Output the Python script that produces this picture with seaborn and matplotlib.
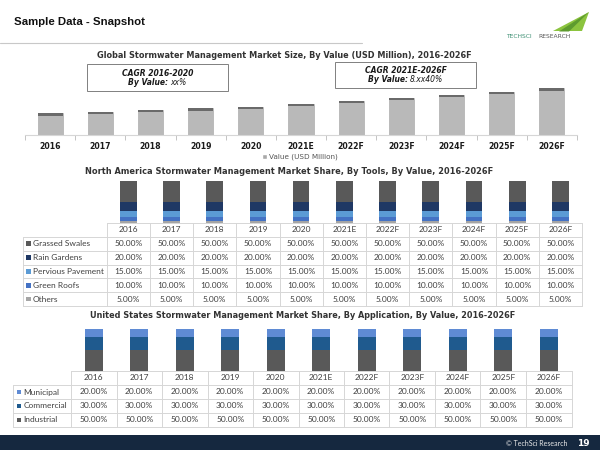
import matplotlib
matplotlib.use("Agg")
import matplotlib.pyplot as plt
import matplotlib.transforms as mtrans
from matplotlib.patches import Rectangle, Polygon, Patch
from matplotlib.lines import Line2D
import seaborn as sns
import numpy as np
import pandas as pd

# ---------------- data ----------------
years = ["2016", "2017", "2018", "2019", "2020", "2021E", "2022F", "2023F", "2024F", "2025F", "2026F"]
market_value = [21.7, 23.3, 25.0, 26.7, 28.3, 30.9, 34.0, 37.0, 40.0, 43.3, 46.7]

na_labels = ["Grassed Swales", "Rain Gardens", "Pervious Pavement", "Green Roofs", "Others"]
na_grassed_swales = [50, 50, 50, 50, 50, 50, 50, 50, 50, 50, 50]
na_rain_gardens = [20, 20, 20, 20, 20, 20, 20, 20, 20, 20, 20]
na_pervious_pavement = [15, 15, 15, 15, 15, 15, 15, 15, 15, 15, 15]
na_green_roofs = [10, 10, 10, 10, 10, 10, 10, 10, 10, 10, 10]
na_others = [5, 5, 5, 5, 5, 5, 5, 5, 5, 5, 5]

us_labels = ["Municipal", "Commercial", "Industrial"]
us_municipal = [20, 20, 20, 20, 20, 20, 20, 20, 20, 20, 20]
us_commercial = [30, 30, 30, 30, 30, 30, 30, 30, 30, 30, 30]
us_industrial = [50, 50, 50, 50, 50, 50, 50, 50, 50, 50, 50]

# ---------------- style ----------------
sns.set_theme(style="white")
plt.rcParams["font.family"] = ["DejaVu Sans"]

W, H = 600, 450
def fx(px):
    return px / W
def fy(py):
    return 1 - py / H

fig = plt.figure(figsize=(6, 4.5), dpi=100, facecolor="white")
renderer = fig.canvas.get_renderer()

def fit(t, target_w):
    w = t.get_window_extent(renderer).width
    t.set_fontsize(t.get_fontsize() * target_w / w)

TXT = "#404040"
GRID = "#d6d6d6"
TABLE_FONT = "Lato"

# ---------------- header ----------------
t = fig.text(fx(14), fy(22), "Sample Data - Snapshot", family="Liberation Sans",
             fontweight="bold", fontsize=9, ha="left", va="center", color="#111111")
fit(t, 130)
fig.add_artist(Line2D([0, fx(362)], [fy(42.5), fy(42.5)], color="#c8c8c8", lw=0.8))

# logo
fig.add_artist(Polygon([(fx(553), fy(31)), (fx(589), fy(12)), (fx(582), fy(31))],
                       closed=True, facecolor="#8cc43f", edgecolor="none"))
fig.add_artist(Polygon([(fx(559), fy(31.5)), (fx(589), fy(12)), (fx(569), fy(31.5))],
                       closed=True, facecolor="#5e9b2f", edgecolor="none"))
fig.text(fx(506), fy(36), "TECHSCI", fontsize=4.3, color="#3c8f72", ha="left", va="center")
fig.text(fx(538), fy(36), "RESEARCH", fontsize=4.3, color="#555555", ha="left", va="center")

# ---------------- chart 1: market size ----------------
t = fig.text(fx(284), fy(55), "Global Stormwater Management Market Size, By Value (USD Million), 2016-2026F",
             fontweight="bold", fontsize=6, ha="center", va="center", color="#333333")
fit(t, 381)

ax1 = fig.add_axes([fx(25), fy(135), 552 / W, 62 / H])
sns.barplot(x=years, y=market_value, color="#b9b9b9", width=0.5, saturation=1,
            edgecolor="#a3a3a3", linewidth=0.4, ax=ax1)
ax1.set_ylim(0, 62)
ax1.set_xlim(-0.5, len(years) - 0.5)
for p in list(ax1.patches):
    ax1.add_patch(Rectangle((p.get_x(), p.get_height() - 2.2), p.get_width(), 2.2,
                            facecolor="#6a6a6a", edgecolor="none"))
for s in ["left", "top", "right"]:
    ax1.spines[s].set_visible(False)
ax1.spines["bottom"].set_color(GRID)
ax1.spines["bottom"].set_linewidth(0.8)
ax1.set_yticks([])
ax1.set_xlabel("")
ax1.set_ylabel("")
ax1.set_xticks(np.arange(-0.5, len(years), 1), minor=True)
ax1.tick_params(axis="x", which="major", length=0, pad=5, labelsize=5.6, labelcolor="#1a1a1a")
ax1.tick_params(axis="x", which="minor", length=3.5, width=0.7, color="#c4c4c4",
                bottom=True, direction="out")
for lab in ax1.get_xticklabels():
    lab.set_fontweight("bold")
ax1.set_facecolor("none")

fig.legend(handles=[Patch(facecolor="#a9a9a9", label="Value (USD Million)")],
           loc="center", bbox_to_anchor=(fx(300), fy(157)), frameon=False,
           fontsize=5.2, handlelength=0.75, handleheight=0.75, handletextpad=0.3,
           labelcolor="#555555")

# CAGR boxes
def cagr_box(x0, y0, x1, y1, line1, bold2, norm2):
    fig.add_artist(Rectangle((fx(x0), fy(y1)), (x1 - x0) / W, (y1 - y0) / H,
                             transform=fig.transFigure, fill=False, edgecolor="#808080", lw=0.7))
    cx = (x0 + x1) / 2
    fig.text(fx(cx), fy(y0 + (y1 - y0) * 0.33), line1, fontweight="bold", style="italic",
             fontsize=5.5, ha="center", va="center", color="#1a1a1a")
    ta = fig.text(0, fy(y0 + (y1 - y0) * 0.68), bold2, fontweight="bold", style="italic",
                  fontsize=5.5, ha="left", va="center", color="#1a1a1a")
    tb = fig.text(0, fy(y0 + (y1 - y0) * 0.68), norm2, style="italic",
                  fontsize=5.5, ha="left", va="center", color="#1a1a1a")
    wa = ta.get_window_extent(renderer).width
    wb = tb.get_window_extent(renderer).width
    gap = 2.5
    start = cx - (wa + gap + wb) / 2
    ta.set_x(fx(start))
    tb.set_x(fx(start + wa + gap))

cagr_box(87, 64.5, 228, 90.5, "CAGR 2016-2020", "By Value:", "xx%")
cagr_box(335, 62.5, 476, 87.5, "CAGR 2021E-2026F", "By Value:", "8.xx40%")

# ---------------- table helper ----------------
def draw_table(ax, label_left, top, header_h, row_h, rows):
    trans = mtrans.blended_transform_factory(ax.transData, fig.transFigure)
    n = len(years)
    bottom = top + header_h + row_h * len(rows)
    for i in range(n + 1):
        x = i - 0.5
        fig.add_artist(Line2D([x, x], [fy(top), fy(bottom)], transform=trans, color=GRID, lw=0.7))
    fig.add_artist(Line2D([fx(label_left), fx(label_left)], [fy(top + header_h), fy(bottom)],
                          color=GRID, lw=0.7))
    fig.add_artist(Line2D([-0.5, n - 0.5], [fy(top), fy(top)], transform=trans, color=GRID, lw=0.7))
    x_left_data = ax.transData.inverted().transform(
        fig.transFigure.transform((fx(label_left), 0)))[0]
    for r in range(len(rows) + 1):
        yy = top + header_h + r * row_h
        fig.add_artist(Line2D([x_left_data, n - 0.5], [fy(yy), fy(yy)], transform=trans,
                              color=GRID, lw=0.7))
    for i, yr in enumerate(years):
        fig.text(i, fy(top + header_h / 2), yr, transform=trans, ha="center", va="center",
                 family=TABLE_FONT, fontsize=6, color=TXT)
    for r, (name, color, vals) in enumerate(rows):
        yc = top + header_h + r * row_h + row_h / 2
        fig.add_artist(Rectangle((fx(label_left + 3.5), fy(yc + 2.2)), 4.4 / W, 4.4 / H,
                                 transform=fig.transFigure, facecolor=color, edgecolor="none"))
        fig.text(fx(label_left + 10), fy(yc), name, ha="left", va="center",
                 family=TABLE_FONT, fontsize=6, color=TXT)
        for i, v in enumerate(vals):
            fig.text(i, fy(yc), f"{v:.2f}%", transform=trans, ha="center", va="center",
                     family=TABLE_FONT, fontsize=6, color=TXT)

def stacked(ax, series, colors, width):
    # series given bottom -> top; draw cumulative totals from the top down
    cum = np.cumsum(np.array(series, dtype=float), axis=0)
    for k in range(len(series) - 1, -1, -1):
        sns.barplot(x=years, y=cum[k], color=colors[k], width=width, saturation=1,
                    linewidth=0, ax=ax)
    ax.set_xlim(-0.5, len(years) - 0.5)
    ax.set_ylim(0, 100)
    ax.axis("off")

# ---------------- chart 2: North America ----------------
t = fig.text(fx(289.5), fy(172), "North America Stormwater Management Market Share, By Tools, By Value, 2016-2026F",
             fontweight="bold", fontsize=6, ha="center", va="center", color="#333333")
fit(t, 409)

na_colors = {"Grassed Swales": "#595959", "Rain Gardens": "#1f3864", "Pervious Pavement": "#5b9bd5",
             "Green Roofs": "#4472c4", "Others": "#a5a5a5"}
ax2 = fig.add_axes([fx(106.7), fy(223.3), 475.3 / W, 42.6 / H])
stacked(ax2,
        [na_others, na_green_roofs, na_pervious_pavement, na_rain_gardens, na_grassed_swales],
        [na_colors["Others"], na_colors["Green Roofs"], na_colors["Pervious Pavement"],
         na_colors["Rain Gardens"], na_colors["Grassed Swales"]],
        0.385)
draw_table(ax2, 22.7, 223.3, 13.4, 13.9, [
    (na_labels[0], na_colors[na_labels[0]], na_grassed_swales),
    (na_labels[1], na_colors[na_labels[1]], na_rain_gardens),
    (na_labels[2], na_colors[na_labels[2]], na_pervious_pavement),
    (na_labels[3], na_colors[na_labels[3]], na_green_roofs),
    (na_labels[4], na_colors[na_labels[4]], na_others),
])

# ---------------- chart 3: United States ----------------
t = fig.text(fx(302.5), fy(316), "United States Stormwater Management Market Share, By Application, By Value, 2016-2026F",
             fontweight="bold", fontsize=6, ha="center", va="center", color="#333333")
fit(t, 429)

us_colors = {"Municipal": "#5f8bd4", "Commercial": "#1f5a8e", "Industrial": "#595959"}
ax3 = fig.add_axes([fx(71), fy(370.5), 500.5 / W, 41.5 / H])
stacked(ax3,
        [us_industrial, us_commercial, us_municipal],
        [us_colors["Industrial"], us_colors["Commercial"], us_colors["Municipal"]],
        0.4)
draw_table(ax3, 13.3, 371, 14, 14, [
    (us_labels[0], us_colors[us_labels[0]], us_municipal),
    (us_labels[1], us_colors[us_labels[1]], us_commercial),
    (us_labels[2], us_colors[us_labels[2]], us_industrial),
])

# ---------------- footer ----------------
fig.add_artist(Rectangle((0, 0), 1, 15 / H, transform=fig.transFigure,
                         facecolor="#15283f", edgecolor="none"))
fig.text(fx(568), fy(443), "\u00a9 TechSci Research", ha="right", va="center",
         family=TABLE_FONT, fontsize=5, color="#e8e8e8")
fig.text(fx(583), fy(443), "19", ha="center", va="center", fontweight="bold",
         fontsize=6.5, color="white")

fig.savefig("out.png", dpi=100, facecolor="white")
